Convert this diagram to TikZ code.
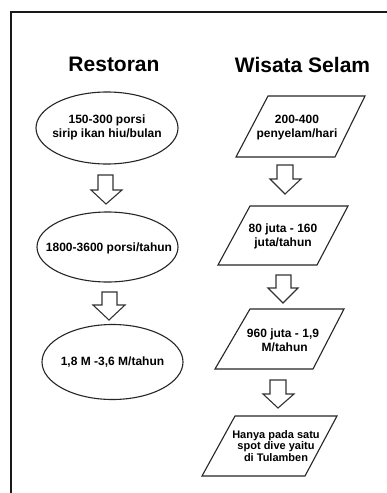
\documentclass[tikz,border=0pt]{standalone}
\usepackage{fontspec}
\setmainfont{Liberation Sans}
\usetikzlibrary{shapes.geometric}
\begin{document}
\begin{tikzpicture}[x=1pt,y=-1pt,
  shape line/.style={draw=black!85,line width=1.1pt,line join=miter},
  blockarrow/.style={draw=black!80,line width=1.1pt,fill=white,line join=miter},
  heading/.style={font=\fontsize{21}{25}\selectfont\bfseries,inner sep=0pt},
  label/.style={font=\fontsize{12}{14}\selectfont\bfseries,align=center,inner sep=0pt},
  smalllabel/.style={font=\fontsize{11}{11.7}\selectfont\bfseries,align=center,inner sep=0pt},
  ell/.style={ellipse,draw=black!85,line width=1.1pt,inner sep=0pt}]
\useasboundingbox (0,0) rectangle (386,493);
\fill[white] (0,0) rectangle (386,493);
% frame
\draw[line width=2.2pt,black!90] (11,494) -- (11,12) -- (387,12);
% headings
\node[heading] (hR) at (114,64.5) {Restoran};
\node[heading] (hW) at (302.5,64.5) {Wisata Selam};
% left column ellipses
\node[ell,minimum width=142pt,minimum height=72pt] (e1) at (107,128) {};
\node[label] (t1) at (107,127) {150-300 porsi\\sirip ikan hiu/bulan};
\node[ell,minimum width=141pt,minimum height=70pt] (e2) at (107.5,247) {};
\node[label] (t2) at (109,248) {1800-3600 porsi/tahun};
\node[ell,minimum width=141pt,minimum height=75pt] (e3) at (112.5,362) {};
\node[label] (t3) at (112.5,362) {1,8 M -3,6 M/tahun};
% left arrows
\draw[blockarrow] (98,175) -- (113,175) -- (113,190) -- (122,190) -- (106,204) -- (91,190) -- (98,190) -- cycle;
\draw[blockarrow] (102,292) -- (117,292) -- (117,305) -- (125,305) -- (109,320) -- (93,305) -- (102,305) -- cycle;
% right column parallelograms
\draw[shape line] (268,96) -- (365,96) -- (335,157) -- (236,157) -- cycle;
\node[label] (p1) at (297,128) {200-400\\penyelam/hari};
\draw[shape line] (250,206) -- (348,206) -- (317,265) -- (218,265) -- cycle;
\node[label] (p2) at (283,236.5) {80 juta - 160\\juta/tahun};
\draw[shape line] (250,309) -- (344,309) -- (313,369) -- (215,369) -- cycle;
\node[label] (p3) at (283,340) {960 juta - 1,9\\\ M/tahun};
\draw[shape line] (235,416) -- (337,416) -- (305,476) -- (202,476) -- cycle;
\node[smalllabel] (p4) at (276,446) {Hanya pada satu\\spot dive yaitu\\di Tulamben};
% right arrows
\draw[blockarrow] (277,165) -- (293,165) -- (293,179) -- (301,179) -- (285,194) -- (270,179) -- (277,179) -- cycle;
\draw[blockarrow] (276,275) -- (291,275) -- (291,288) -- (298,288) -- (283,303) -- (268,288) -- (276,288) -- cycle;
\draw[blockarrow] (270,380) -- (286,380) -- (286,394) -- (294,394) -- (278,408) -- (263,394) -- (270,394) -- cycle;
\end{tikzpicture}
\end{document}
